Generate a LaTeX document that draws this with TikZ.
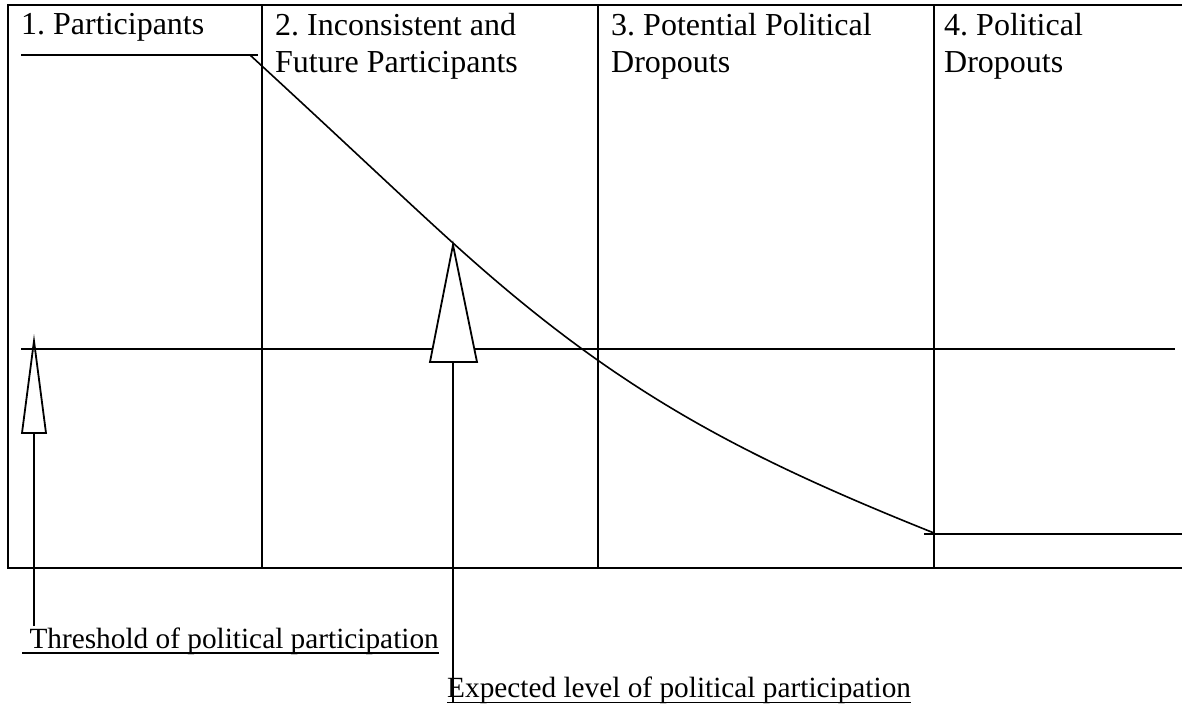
\documentclass[tikz,border=0pt]{standalone}
\usepackage{fontspec}
\setmainfont{Liberation Serif}
\frenchspacing
\begin{document}
\begin{tikzpicture}[x=1pt,y=-1pt,
  frame/.style={line width=2pt},
  curveline/.style={line width=1.6pt, line join=round},
  hdr/.style={anchor=north west, inner sep=0pt, align=left, font=\fontsize{32}{37}\selectfont},
  lbl/.style={anchor=base west, inner sep=0pt, font=\fontsize{29.3}{34}\selectfont},
  uline/.style={line width=1.6pt},
  shaft/.style={line width=1.8pt},
  hollow/.style={line width=1.8pt, fill=white, line join=miter}]
\useasboundingbox (0,0) rectangle (1182,706);

% frame and columns
\draw[frame] (1182,5) -- (8,5) -- (8,568) -- (1182,568);
\foreach \x in {262,598,934} \draw[frame] (\x,5) -- (\x,568);

% threshold line
\draw[curveline] (21,349) -- (1175,349);

% arrows
\coordinate (t1) at (34,341);
\coordinate (t2) at (453,245);
\draw[shaft] (34,626) -- (34,433);
\draw[hollow] (22,433) -- (t1) -- (46,433) -- cycle;
\draw[shaft] (453,703) -- (453,362);
\draw[hollow] (430,362) -- (t2) -- (477,362) -- cycle;

% expected participation curve
\coordinate (c0) at (250,55);
\coordinate (c1) at (453,243);
\coordinate (c2) at (934,533);
\draw[curveline] (21,55) -- (258,55);
\draw[curveline] (c0) .. controls (350,147) and (400,195) .. (c1)
  .. controls (613,388) and (734,453) .. (c2);
\draw[curveline] (924,534) -- (1182,534);

% headers
\node[hdr] (h1) at (21,13) {1. Participants};
\node[hdr] (h2) at (275,13) {2. Inconsistent and\\Future Participants};
\node[hdr] (h3) at (611,13) {3. Potential Political\\Dropouts};
\node[hdr] (h4) at (944,13) {4. Political\\Dropouts};

% labels
\node[lbl] (thr) at (22,648) {\ Threshold of political participation};
\draw[uline] ([yshift=-5pt]thr.base west) -- ([yshift=-5pt]thr.base east);
\node[lbl] (exp) at (447,697) {Expected level of political participation};
\draw[uline] ([yshift=-5.5pt]exp.base west) -- ([yshift=-5.5pt]exp.base east);
\end{tikzpicture}
\end{document}
